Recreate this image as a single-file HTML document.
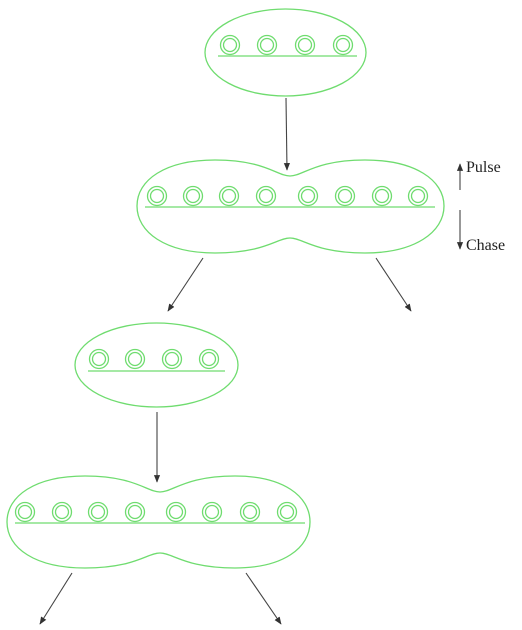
<!DOCTYPE html>
<html><head><style>html,body{margin:0;padding:0;background:#fff}svg{display:block}</style></head>
<body>
<svg width="522" height="630" viewBox="0 0 522 630" xmlns="http://www.w3.org/2000/svg">
<defs>
<marker id="ah" viewBox="0 0 10 10" refX="9" refY="5" markerWidth="7" markerHeight="7" orient="auto-start-reverse"><path d="M0,1 L10,5 L0,9 Z" fill="#333"/></marker>
</defs>
<g fill="none" stroke="#6fdc6f" stroke-width="1.3">
<ellipse cx="285.5" cy="52.5" rx="80.5" ry="43.5"/>
<line x1="218" y1="56" x2="357" y2="56"/>
<g><circle cx="230" cy="45" r="9.5"/><circle cx="230" cy="45" r="6.5"/>
<circle cx="267" cy="45" r="9.5"/><circle cx="267" cy="45" r="6.5"/>
<circle cx="305" cy="45" r="9.5"/><circle cx="305" cy="45" r="6.5"/>
<circle cx="343" cy="45" r="9.5"/><circle cx="343" cy="45" r="6.5"/></g>

<path d="M290,176 C277,176 265,160 215,160 C165,160 137,180 137,206 C137,232 165,253 215,253 C265,253 277,238 290,238 C303,238 315,253 365,253 C415,253 444,232 444,206 C444,180 415,160 365,160 C315,160 303,176 290,176 Z"/>
<line x1="145" y1="207" x2="435" y2="207"/>
<g>
<circle cx="157" cy="196" r="9.5"/><circle cx="157" cy="196" r="6.5"/>
<circle cx="193" cy="196" r="9.5"/><circle cx="193" cy="196" r="6.5"/>
<circle cx="229" cy="196" r="9.5"/><circle cx="229" cy="196" r="6.5"/>
<circle cx="266" cy="196" r="9.5"/><circle cx="266" cy="196" r="6.5"/>
<circle cx="308" cy="196" r="9.5"/><circle cx="308" cy="196" r="6.5"/>
<circle cx="345" cy="196" r="9.5"/><circle cx="345" cy="196" r="6.5"/>
<circle cx="382" cy="196" r="9.5"/><circle cx="382" cy="196" r="6.5"/>
<circle cx="418" cy="196" r="9.5"/><circle cx="418" cy="196" r="6.5"/>
</g>

<ellipse cx="156.5" cy="365" rx="81.5" ry="42"/>
<line x1="88" y1="371" x2="225" y2="371"/>
<g><circle cx="99" cy="359" r="9.5"/><circle cx="99" cy="359" r="6.5"/>
<circle cx="135" cy="359" r="9.5"/><circle cx="135" cy="359" r="6.5"/>
<circle cx="172" cy="359" r="9.5"/><circle cx="172" cy="359" r="6.5"/>
<circle cx="209" cy="359" r="9.5"/><circle cx="209" cy="359" r="6.5"/></g>

<path d="M160,492 C147,492 135,476 85,476 C35,476 7,496 7,522 C7,548 35,568 85,568 C135,568 147,553 160,553 C173,553 185,568 235,568 C283,568 310,548 310,522 C310,496 283,476 235,476 C185,476 173,492 160,492 Z"/>
<line x1="15" y1="523" x2="305" y2="523"/>
<g>
<circle cx="25" cy="512" r="9.5"/><circle cx="25" cy="512" r="6.5"/>
<circle cx="62" cy="512" r="9.5"/><circle cx="62" cy="512" r="6.5"/>
<circle cx="98" cy="512" r="9.5"/><circle cx="98" cy="512" r="6.5"/>
<circle cx="135" cy="512" r="9.5"/><circle cx="135" cy="512" r="6.5"/>
<circle cx="176" cy="512" r="9.5"/><circle cx="176" cy="512" r="6.5"/>
<circle cx="212" cy="512" r="9.5"/><circle cx="212" cy="512" r="6.5"/>
<circle cx="250" cy="512" r="9.5"/><circle cx="250" cy="512" r="6.5"/>
<circle cx="287" cy="512" r="9.5"/><circle cx="287" cy="512" r="6.5"/>
</g>
</g>
<g stroke="#444" stroke-width="1.1" marker-end="url(#ah)">
<line x1="286" y1="98" x2="287" y2="170"/>
<line x1="203" y1="258" x2="168" y2="311"/>
<line x1="376" y1="258" x2="411" y2="311"/>
<line x1="157" y1="412" x2="157" y2="482"/>
<line x1="72" y1="573" x2="40" y2="624"/>
<line x1="246" y1="573" x2="281" y2="624"/>
<line x1="460" y1="190" x2="460" y2="164"/>
<line x1="460" y1="210" x2="460" y2="249"/>
</g>
<g font-family="Liberation Serif, serif" font-size="16" fill="#222">
<text x="466" y="172">Pulse</text>
<text x="466" y="250">Chase</text>
</g>
</svg>
</body></html>
